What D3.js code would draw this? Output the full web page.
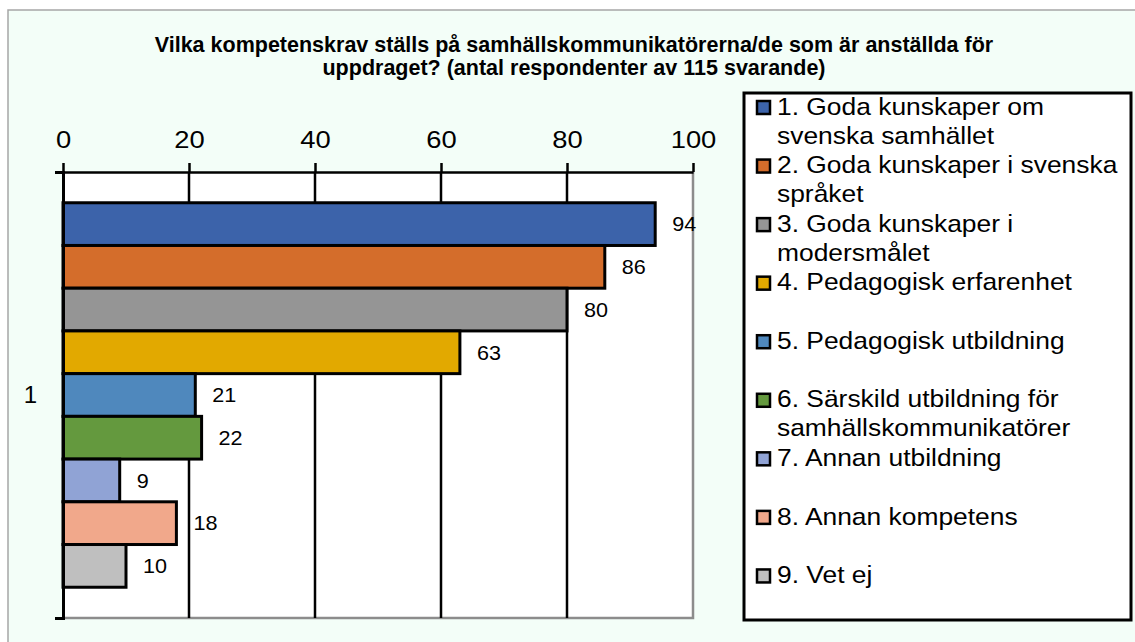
<!DOCTYPE html>
<html lang="sv">
<head>
  <meta charset="UTF-8" />
  <title>Kompetenskrav</title>
  <script src="https://d3js.org/d3.v7.min.js"></script>
  <style>
    body { margin: 0; background: #fff; font-family: "Liberation Sans", Arial, sans-serif; }
    .title { font-weight: bold; font-size: 21.5px; }
    .axis text { font-size: 24px; fill: #000; }
    .value { font-size: 20px; }
    .legend text { font-size: 24px; }
  </style>
</head>
<body>
  <svg id="chart" width="1135" height="642"></svg>

  <script>
    const categories = ["1"];
    const seriesLabels = [
      "1. Goda kunskaper om svenska samhället",
      "2. Goda kunskaper i svenska språket",
      "3. Goda kunskaper i modersmålet",
      "4. Pedagogisk erfarenhet",
      "5. Pedagogisk utbildning",
      "6. Särskild utbildning för samhällskommunikatörer",
      "7. Annan utbildning",
      "8. Annan kompetens",
      "9. Vet ej"
    ];
    const values = [94, 86, 80, 63, 21, 22, 9, 18, 10];
    const xTicks = [0, 20, 40, 60, 80, 100];
    const titleLines = [
      "Vilka kompetenskrav ställs på samhällskommunikatörerna/de som är anställda för",
      "uppdraget? (antal respondenter av 115 svarande)"
    ];
    const barColors = ["#3c63aa", "#d46d2b", "#959595", "#e2a900", "#4f88bd",
                       "#64993e", "#90a3d5", "#f1a88b", "#bfbfbf"];

    const svg = d3.select("#chart");
    const plot = { left: 63, right: 693, top: 172, bottom: 618 };
    const stretch = 1.1; // the reference text is a little wider than Arial

    // chart background
    svg.append("rect")
      .attr("x", 8).attr("y", 10)
      .attr("width", 1140).attr("height", 640)
      .attr("fill", "#f3fef8")
      .attr("stroke", "#a6a6a6").attr("stroke-width", 1.5);

    svg.append("g").selectAll("text")
      .data(titleLines)
      .join("text")
      .attr("class", "title")
      .attr("x", 574)
      .attr("y", (d, i) => 52 + i * 23)
      .attr("text-anchor", "middle")
      .text(d => d);

    const x = d3.scaleLinear().domain([0, 100]).range([plot.left, plot.right]);
    const y0 = d3.scaleBand().domain(categories).range([plot.top, plot.bottom])
      .paddingInner(0).paddingOuter(0.08);
    const y1 = d3.scaleBand().domain(seriesLabels).range([0, y0.bandwidth()]);
    const color = d3.scaleOrdinal(seriesLabels, barColors);

    // plot area
    svg.append("rect")
      .attr("x", plot.left).attr("y", plot.top)
      .attr("width", plot.right - plot.left).attr("height", plot.bottom - plot.top)
      .attr("fill", "#fff");

    svg.append("path")
      .attr("d", `M${plot.left},${plot.bottom}H${plot.right}V${plot.top}`)
      .attr("fill", "none").attr("stroke", "#8c8c8c").attr("stroke-width", 2.5);

    svg.append("g").selectAll("line")
      .data(xTicks.filter(t => t > 0 && t < 100))
      .join("line")
      .attr("x1", d => x(d)).attr("x2", d => x(d))
      .attr("y1", plot.top).attr("y2", plot.bottom)
      .attr("stroke", "#000").attr("stroke-width", 2.5);

    const rows = categories.flatMap(c => seriesLabels.map((s, i) => ({ cat: c, key: s, value: values[i] })));

    svg.append("g").selectAll("rect")
      .data(rows)
      .join("rect")
      .attr("x", x(0))
      .attr("y", d => y0(d.cat) + y1(d.key))
      .attr("width", d => x(d.value) - x(0))
      .attr("height", y1.bandwidth())
      .attr("fill", d => color(d.key))
      .attr("stroke", "#000").attr("stroke-width", 3);

    svg.append("g").selectAll("text")
      .data(rows)
      .join("text")
      .attr("class", "value")
      .attr("transform", d => `translate(${x(d.value) + 17},${y0(d.cat) + y1(d.key) + y1.bandwidth() / 2 + 2}) scale(1.08,1)`)
      .attr("dominant-baseline", "middle")
      .text(d => d.value);

    // axes
    const xAxis = svg.append("g")
      .attr("class", "axis")
      .attr("transform", `translate(0,${plot.top})`)
      .call(d3.axisTop(x).tickValues(xTicks).tickSize(9).tickSizeOuter(0).tickPadding(15));
    xAxis.selectAll("line, path").attr("stroke", "#000").attr("stroke-width", 2.5);
    xAxis.selectAll("text").attr("font-family", null).attr("font-size", null)
      .attr("transform", `scale(${stretch + 0.04},1)`);

    const yAxis = svg.append("g")
      .attr("class", "axis")
      .attr("transform", `translate(${plot.left},0)`)
      .call(d3.axisLeft(y0).tickSize(0).tickSizeOuter(8).tickPadding(26));
    yAxis.select("path").attr("stroke", "#000").attr("stroke-width", 3);
    yAxis.selectAll("text").attr("font-family", null).attr("font-size", null);

    // legend
    const legendBox = { x: 744, y: 93, w: 387, h: 527 };
    const legend = svg.append("g").attr("class", "legend");
    legend.append("rect")
      .attr("x", legendBox.x).attr("y", legendBox.y)
      .attr("width", legendBox.w).attr("height", legendBox.h)
      .attr("fill", "#fff").attr("stroke", "#000").attr("stroke-width", 3);

    const ly = d3.scaleBand().domain(seriesLabels).range([legendBox.y, legendBox.y + legendBox.h]);

    const item = legend.selectAll("g.item")
      .data(seriesLabels)
      .join("g")
      .attr("class", "item")
      .attr("transform", d => `translate(${legendBox.x},${ly(d) + 15})`);

    item.append("rect")
      .attr("x", 13).attr("y", -7)
      .attr("width", 13).attr("height", 13)
      .attr("fill", d => color(d))
      .attr("stroke", "#000").attr("stroke-width", 2.5);

    const maxLine = 348 / stretch;
    item.each(function (d) {
      const t = d3.select(this).append("text")
        .attr("transform", `translate(33,0) scale(${stretch},1)`)
        .attr("dominant-baseline", "middle");
      const words = d.split(" ");
      let line = [];
      let tspan = t.append("tspan").attr("x", 0).attr("dy", 0);
      for (const w of words) {
        line.push(w);
        tspan.text(line.join(" "));
        if (tspan.node().getComputedTextLength() > maxLine && line.length > 1) {
          line.pop();
          tspan.text(line.join(" "));
          line = [w];
          tspan = t.append("tspan").attr("x", 0).attr("dy", 29).text(w);
        }
      }
    });
  </script>
</body>
</html>
